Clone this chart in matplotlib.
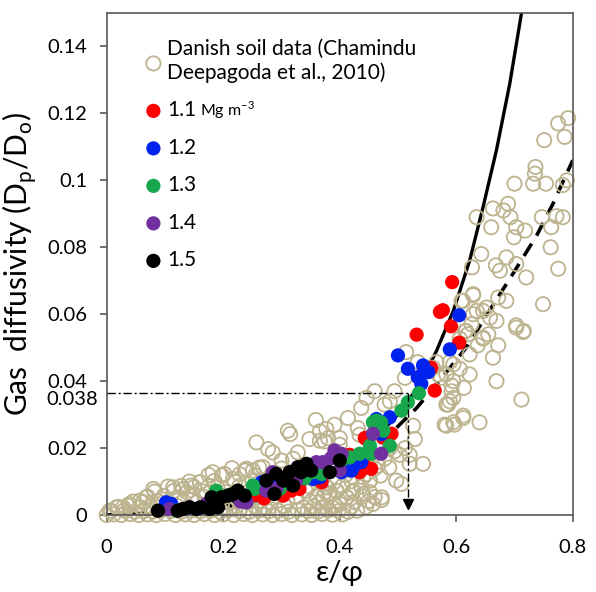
import matplotlib
matplotlib.use("Agg")
import matplotlib.pyplot as plt

plt.rcParams['font.family'] = ['Lato', 'DejaVu Sans']
plt.rcParams['mathtext.fontset'] = 'custom'
plt.rcParams['mathtext.rm'] = 'Lato'

# Danish soil data (open circles), (eps/phi, Dp/Do)
danish_pts = [
    # bottom rows of the dense cloud
    (0.000, 0.0000), (0.012, 0.0002), (0.025, 0.0000), (0.040, 0.0003), (0.055, 0.0000),
    (0.070, 0.0002), (0.085, 0.0000), (0.100, 0.0003), (0.118, 0.0000), (0.135, 0.0002),
    (0.150, 0.0000), (0.168, 0.0003), (0.185, 0.0000), (0.200, 0.0002), (0.218, 0.0000),
    (0.235, 0.0003), (0.250, 0.0000), (0.268, 0.0002), (0.285, 0.0000), (0.300, 0.0003),
    (0.318, 0.0000), (0.335, 0.0002), (0.352, 0.0000), (0.370, 0.0003), (0.388, 0.0001),
    (0.405, 0.0002),
    (0.008, 0.0012), (0.030, 0.0014), (0.048, 0.0010), (0.065, 0.0013), (0.080, 0.0011),
    (0.095, 0.0015), (0.110, 0.0012), (0.128, 0.0010), (0.145, 0.0014), (0.160, 0.0011),
    (0.178, 0.0013), (0.195, 0.0010), (0.210, 0.0015), (0.228, 0.0012), (0.245, 0.0010),
    (0.262, 0.0014), (0.278, 0.0011), (0.295, 0.0013), (0.312, 0.0010), (0.328, 0.0015),
    (0.345, 0.0012), (0.362, 0.0010), (0.380, 0.0014), (0.398, 0.0012), (0.415, 0.0010),
    (0.430, 0.0013),
    (0.020, 0.0024), (0.038, 0.0027), (0.058, 0.0023), (0.075, 0.0026), (0.092, 0.0025),
    (0.120, 0.0028), (0.140, 0.0024), (0.172, 0.0026), (0.205, 0.0023), (0.222, 0.0027),
    (0.255, 0.0025), (0.272, 0.0024), (0.305, 0.0027), (0.338, 0.0023), (0.355, 0.0026),
    (0.372, 0.0024), (0.392, 0.0028), (0.420, 0.0025), (0.445, 0.0024),
    (0.045, 0.0040), (0.062, 0.0038), (0.088, 0.0042), (0.105, 0.0039), (0.132, 0.0041),
    (0.155, 0.0038), (0.190, 0.0042), (0.215, 0.0040), (0.238, 0.0039), (0.265, 0.0041),
    (0.282, 0.0038), (0.310, 0.0042), (0.350, 0.0040), (0.365, 0.0038), (0.400, 0.0041),
    (0.425, 0.0039), (0.450, 0.0042), (0.472, 0.0045),
    (0.070, 0.0055), (0.098, 0.0057), (0.125, 0.0053), (0.148, 0.0056), (0.168, 0.0054),
    (0.200, 0.0057), (0.232, 0.0055), (0.258, 0.0053), (0.292, 0.0056), (0.325, 0.0054),
    (0.360, 0.0057), (0.382, 0.0055), (0.412, 0.0053), (0.440, 0.0056), (0.460, 0.0054),
    (0.082, 0.0070), (0.115, 0.0072), (0.138, 0.0068), (0.165, 0.0071), (0.205, 0.0069),
    (0.245, 0.0072), (0.268, 0.0070), (0.300, 0.0068), (0.342, 0.0071), (0.375, 0.0069),
    (0.395, 0.0072), (0.423, 0.0070), (0.452, 0.0068),
    (0.105, 0.0085), (0.128, 0.0087), (0.150, 0.0084), (0.175, 0.0086), (0.190, 0.0083),
    (0.228, 0.0087), (0.262, 0.0085), (0.295, 0.0084), (0.348, 0.0086), (0.378, 0.0083),
    (0.405, 0.0087), (0.437, 0.0085),
    (0.142, 0.0100), (0.160, 0.0098), (0.185, 0.0102), (0.220, 0.0099), (0.250, 0.0101),
    (0.280, 0.0098), (0.312, 0.0102), (0.365, 0.0100), (0.390, 0.0098), (0.420, 0.0101),
    (0.452, 0.0103),
    (0.175, 0.0120), (0.198, 0.0118), (0.228, 0.0122), (0.255, 0.0119), (0.288, 0.0121),
    (0.320, 0.0118), (0.355, 0.0122), (0.372, 0.0120), (0.410, 0.0119), (0.445, 0.0121),
    (0.470, 0.0118),
    (0.215, 0.0140), (0.240, 0.0138), (0.262, 0.0142), (0.300, 0.0139), (0.335, 0.0141),
    (0.368, 0.0138), (0.392, 0.0142), (0.430, 0.0140), (0.460, 0.0139), (0.485, 0.0142),
    # upper edge of the cloud, low x
    (0.005, 0.0013), (0.017, 0.0023), (0.028, 0.0023), (0.039, 0.0033), (0.057, 0.0043),
    (0.068, 0.0053), (0.080, 0.0078), (0.114, 0.0083), (0.131, 0.0078), (0.145, 0.0088),
    (0.160, 0.0098), (0.182, 0.0128), (0.202, 0.0123), (0.217, 0.0108), (0.237, 0.0133),
    (0.240, 0.0138), (0.251, 0.0133), (0.268, 0.0143), (0.257, 0.0217), (0.277, 0.0197),
    (0.285, 0.0187), (0.300, 0.0163), (0.320, 0.0168), (0.328, 0.0187), (0.311, 0.0252),
    (0.315, 0.0242), (0.348, 0.0227), (0.366, 0.0222), (0.359, 0.0284),
    # middle band
    (0.366, 0.0250), (0.377, 0.0257), (0.391, 0.0270), (0.414, 0.0290), (0.431, 0.0260),
    (0.434, 0.0240), (0.400, 0.0230), (0.380, 0.0230), (0.374, 0.0220), (0.400, 0.0210),
    (0.437, 0.0320), (0.446, 0.0350), (0.460, 0.0370), (0.477, 0.0330), (0.486, 0.0340),
    (0.494, 0.0370), (0.512, 0.0410), (0.514, 0.0487), (0.534, 0.0457), (0.566, 0.0457),
    (0.560, 0.0440), (0.569, 0.0420), (0.589, 0.0457), (0.595, 0.0400),
    (0.526, 0.0267), (0.529, 0.0227), (0.512, 0.0200), (0.520, 0.0180), (0.503, 0.0180),
    (0.543, 0.0153), (0.497, 0.0103), (0.506, 0.0093), (0.520, 0.0153), (0.472, 0.0053),
    (0.452, 0.0143), (0.437, 0.0172), (0.423, 0.0163), (0.417, 0.0133), (0.440, 0.0113),
    (0.452, 0.0103), (0.423, 0.0073), (0.440, 0.0063), (0.457, 0.0033), (0.388, 0.0023),
    (0.400, 0.0033), (0.412, 0.0053), (0.383, 0.0063), (0.394, 0.0073), (0.371, 0.0053),
    (0.377, 0.0083), (0.486, 0.0200), (0.494, 0.0190), (0.477, 0.0168), (0.466, 0.0148),
    # right part
    (0.583, 0.0267), (0.597, 0.0270), (0.612, 0.0290), (0.640, 0.0277), (0.595, 0.0277),
    (0.580, 0.0270), (0.612, 0.0297), (0.586, 0.0330), (0.592, 0.0370), (0.595, 0.0350),
    (0.613, 0.0380), (0.589, 0.0340), (0.583, 0.0330), (0.592, 0.0387), (0.712, 0.0345),
    (0.669, 0.0400), (0.583, 0.0420), (0.574, 0.0410), (0.595, 0.0450), (0.606, 0.0437),
    (0.623, 0.0420), (0.663, 0.0470), (0.623, 0.0480), (0.637, 0.0507), (0.672, 0.0507),
    (0.646, 0.0527), (0.655, 0.0540), (0.606, 0.0527), (0.615, 0.0550), (0.620, 0.0540),
    (0.617, 0.0550), (0.626, 0.0570), (0.646, 0.0530), (0.703, 0.0560), (0.716, 0.0550),
    (0.703, 0.0567), (0.715, 0.0547), (0.629, 0.0600), (0.646, 0.0610), (0.658, 0.0590),
    (0.669, 0.0580), (0.609, 0.0640), (0.629, 0.0657), (0.635, 0.0610), (0.652, 0.0620),
    (0.612, 0.0640), (0.672, 0.0650), (0.686, 0.0640), (0.749, 0.0630), (0.629, 0.0660),
    (0.720, 0.0710), (0.775, 0.0736), (0.668, 0.0746), (0.675, 0.0730), (0.703, 0.0750),
    (0.627, 0.0740), (0.686, 0.0770), (0.643, 0.0780), (0.762, 0.0800), (0.660, 0.0860),
    (0.703, 0.0860), (0.718, 0.0850), (0.699, 0.0830), (0.763, 0.0860), (0.635, 0.0890),
    (0.693, 0.0890), (0.747, 0.0890), (0.772, 0.0893), (0.783, 0.0890), (0.663, 0.0916),
    (0.681, 0.0910), (0.689, 0.0930), (0.700, 0.0990), (0.732, 0.0990), (0.754, 0.0990),
    (0.783, 0.0986), (0.790, 0.1000), (0.735, 0.1020), (0.736, 0.1040), (0.751, 0.1120),
    (0.786, 0.1130), (0.775, 0.1170), (0.792, 0.1186),
]

# Filled points per bulk density (Mg m-3)
red_pts = [
    (0.577, 0.0612), (0.572, 0.0607), (0.591, 0.0564), (0.532, 0.0539), (0.605, 0.0515),
    (0.593, 0.0696), (0.557, 0.0440), (0.563, 0.0372), (0.489, 0.0243), (0.477, 0.0243),
    (0.474, 0.0232), (0.454, 0.0138), (0.434, 0.0128), (0.417, 0.0180), (0.443, 0.0230),
    (0.440, 0.0163), (0.446, 0.0227), (0.369, 0.0098), (0.331, 0.0078), (0.300, 0.0063),
    (0.303, 0.0058), (0.317, 0.0073), (0.254, 0.0060), (0.270, 0.0050),
]
blue_pts = [
    (0.605, 0.0597), (0.589, 0.0495), (0.500, 0.0477), (0.517, 0.0437), (0.543, 0.0447),
    (0.552, 0.0427), (0.534, 0.0412), (0.540, 0.0392), (0.486, 0.0292), (0.463, 0.0287),
    (0.471, 0.0242), (0.437, 0.0158), (0.423, 0.0143), (0.420, 0.0133), (0.403, 0.0128),
    (0.102, 0.0038), (0.111, 0.0033), (0.354, 0.0108), (0.366, 0.0113), (0.266, 0.0098),
    (0.290, 0.0085), (0.310, 0.0095),
]
green_pts = [
    (0.536, 0.0364), (0.517, 0.0337), (0.506, 0.0312), (0.463, 0.0282), (0.471, 0.0277),
    (0.457, 0.0277), (0.475, 0.0252), (0.486, 0.0207), (0.452, 0.0207), (0.454, 0.0183),
    (0.434, 0.0183), (0.417, 0.0172), (0.403, 0.0163), (0.369, 0.0123), (0.188, 0.0073),
    (0.251, 0.0088), (0.254, 0.0078), (0.372, 0.0128), (0.354, 0.0128), (0.297, 0.0078),
    (0.120, 0.0013), (0.340, 0.0110), (0.210, 0.0060),
]
purple_pts = [
    (0.457, 0.0243), (0.471, 0.0183), (0.391, 0.0193), (0.403, 0.0183), (0.371, 0.0158),
    (0.400, 0.0133), (0.285, 0.0128), (0.291, 0.0078), (0.274, 0.0073), (0.240, 0.0038),
    (0.360, 0.0158), (0.325, 0.0103), (0.160, 0.0023), (0.171, 0.0033), (0.108, 0.0018),
    (0.131, 0.0018), (0.142, 0.0023), (0.343, 0.0143), (0.385, 0.0170), (0.230, 0.0040),
]
black_pts = [
    (0.088, 0.0013), (0.122, 0.0013), (0.131, 0.0018), (0.142, 0.0023), (0.154, 0.0018),
    (0.162, 0.0023), (0.177, 0.0018), (0.191, 0.0023), (0.180, 0.0053), (0.197, 0.0053),
    (0.208, 0.0058), (0.217, 0.0063), (0.225, 0.0073), (0.237, 0.0058), (0.274, 0.0103),
    (0.291, 0.0123), (0.303, 0.0103), (0.288, 0.0063), (0.320, 0.0088), (0.314, 0.0128),
    (0.328, 0.0143), (0.340, 0.0148), (0.334, 0.0128), (0.351, 0.0133), (0.343, 0.0153),
    (0.383, 0.0128), (0.400, 0.0163),
]

# model curves
solid_x = [0.0, 0.1, 0.2, 0.3, 0.4, 0.45, 0.5, 0.525, 0.543, 0.566, 0.595,
           0.623, 0.646, 0.669, 0.692, 0.712, 0.72]
solid_y = [0.0, 0.0005, 0.002, 0.006, 0.014, 0.021, 0.030, 0.036, 0.041, 0.049, 0.061,
           0.076, 0.092, 0.109, 0.129, 0.150, 0.159]
dashed_x = [0.0, 0.1, 0.2, 0.3, 0.4, 0.45, 0.497, 0.532, 0.566, 0.617, 0.646,
            0.675, 0.697, 0.738, 0.766, 0.8]
dashed_y = [0.0, 0.0008, 0.003, 0.007, 0.014, 0.019, 0.026, 0.032, 0.039, 0.050, 0.058,
            0.066, 0.072, 0.0835, 0.093, 0.106]

# guide lines: threshold Dp/Do and the matching eps/phi
thr_y = 0.0365
thr_x = 0.517
arrow_y = 0.0034

x_ticks = [0, 0.2, 0.4, 0.6, 0.8]
x_labels = ['0', '0.2', '0.4', '0.6', '0.8']
y_ticks = [0, 0.02, 0.04, 0.06, 0.08, 0.1, 0.12, 0.14]
y_labels = ['0', '0.02', '0.04', '0.06', '0.08', '0.1', '0.12', '0.14']

series = [
    (red_pts, '#ff0000', '1.1'),
    (blue_pts, '#0022ee', '1.2'),
    (green_pts, '#17a84e', '1.3'),
    (purple_pts, '#7030a0', '1.4'),
    (black_pts, '#000000', '1.5'),
]


def main():
    fig = plt.figure(figsize=(5.96, 5.92), dpi=100)
    ax = fig.add_axes([0.179, 0.130, 0.782, 0.848])

    ax.plot(solid_x, solid_y, color='black', lw=2.4, zorder=1)
    ax.plot(dashed_x, dashed_y, color='black', lw=2.6, dashes=(4, 2.6), zorder=1)

    dx, dy = zip(*danish_pts)
    ax.scatter(dx, dy, s=105, facecolors='none', edgecolors='#bdb38f', linewidths=1.3,
               zorder=2, clip_on=False,
               label='Danish soil data (Chamindu\nDeepagoda et al., 2010)')
    for pts, col, lab in series:
        px, py = zip(*pts)
        ax.scatter(px, py, s=105, color=col, edgecolors='none', zorder=3, clip_on=False,
                   label=lab)

    # dash-dot guides with arrow
    ax.plot([0, thr_x], [thr_y, thr_y], color='black', lw=1.0,
            dashes=(6, 2, 1.5, 2), zorder=4)
    ax.plot([thr_x, thr_x], [thr_y, arrow_y], color='black', lw=1.0,
            dashes=(6, 2, 1.5, 2), zorder=4)
    ax.plot([thr_x], [arrow_y], marker='v', color='black', ms=7, zorder=4)

    ax.set_xlim(0, 0.8)
    ax.set_ylim(0, 0.15)
    ax.set_xticks(x_ticks)
    ax.set_xticklabels(x_labels)
    ax.set_yticks(y_ticks)
    ax.set_yticklabels(y_labels)
    for sp in ax.spines.values():
        sp.set_color('#595959')
        sp.set_linewidth(1.2)
    ax.tick_params(direction='out', length=5, width=1.2, color='#595959',
                   labelsize=14.5, pad=9)
    ax.tick_params(axis='x', pad=12)
    ax.text(-0.019, 0.0345, '0.038', transform=ax.get_yaxis_transform(),
            ha='right', va='center', fontsize=14.5)

    ax.set_xlabel('ε/φ', fontsize=21, labelpad=3)
    ax.set_ylabel(r'Gas  diffusivity (D$_\mathregular{p}$/D$_\mathregular{o}$)',
                  fontsize=21.5, labelpad=6)

    leg = ax.legend(loc='upper left', bbox_to_anchor=(0.06, 0.965), frameon=False,
                    fontsize=15, handletextpad=0.15, labelspacing=0.84,
                    handlelength=1.0, borderaxespad=0)

    # small "Mg m-3" unit after the 1.1 entry
    fig.canvas.draw()
    bb = leg.get_texts()[1].get_window_extent()
    fig.text(bb.x1 + 4, (bb.y0 + bb.y1) / 2, r'Mg m$^{-3}$', fontsize=11.5,
             va='center', ha='left', transform=None)

    fig.savefig('out.png', dpi=100)


if __name__ == '__main__':
    main()
